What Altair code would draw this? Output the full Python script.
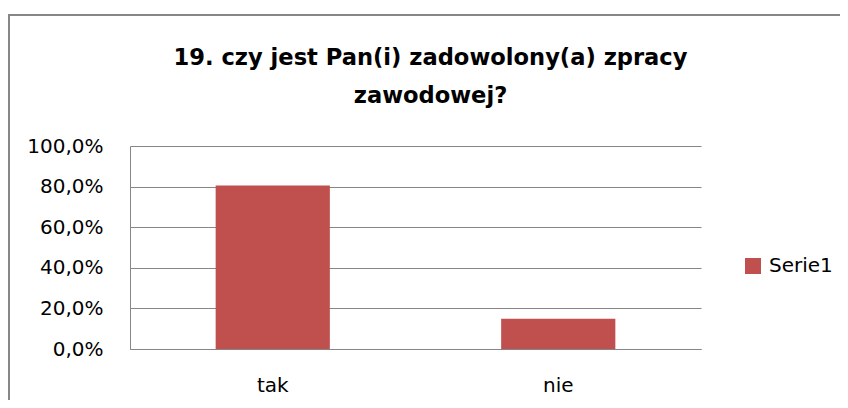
import altair as alt
import pandas as pd

categories = ["tak", "nie"]
values = [0.806, 0.149]
series = ["Serie1", "Serie1"]
y_ticks = [0.0, 0.2, 0.4, 0.6, 0.8, 1.0]
title_lines = ["19. czy jest Pan(i) zadowolony(a) zpracy", "zawodowej?"]

df = pd.DataFrame({"kategoria": categories, "wartosc": values, "serie": series})
frame_df = pd.DataFrame({"k": [0]})
title_df = pd.DataFrame({"linia": title_lines, "nr": [0, 1]})

FONT = "DejaVu Sans"
GRID = "#868686"

bars = alt.Chart(df).mark_bar(color="#C0504D").encode(
    x=alt.X(
        "kategoria:N",
        sort=categories,
        scale=alt.Scale(paddingInner=0.6, paddingOuter=0.3),
        axis=alt.Axis(
            title=None, labelAngle=0, ticks=False, labelPadding=26,
            labelFont=FONT, labelFontSize=20, labelColor="#000000",
            domainColor=GRID, domainWidth=1, grid=False,
        ),
    ),
    y=alt.Y(
        "wartosc:Q",
        scale=alt.Scale(domain=[0, 1], nice=False),
        axis=alt.Axis(
            title=None, values=y_ticks, ticks=False, labelPadding=27,
            labelExpr="replace(format(datum.value, '.1%'), '.', ',')",
            labelFont=FONT, labelFontSize=20, labelColor="#000000",
            domainColor=GRID, domainWidth=1,
            grid=True, gridColor=GRID, gridWidth=1,
        ),
    ),
    color=alt.Color(
        "serie:N",
        scale=alt.Scale(range=["#C0504D"]),
        legend=alt.Legend(
            title=None, orient="none", legendX=613, legendY=110,
            symbolType="square", symbolSize=256, symbolStrokeWidth=0,
            labelFont=FONT, labelFontSize=20, labelColor="#000000",
            labelOffset=6, padding=0,
        ),
    ),
)

frame_top = alt.Chart(frame_df).mark_rule(
    stroke="#878787", strokeWidth=2, clip=False
).encode(
    x=alt.value(-122), x2=alt.value(712), y=alt.value(-131),
)

frame_left = alt.Chart(frame_df).mark_rule(
    stroke="#878787", strokeWidth=2, clip=False
).encode(
    x=alt.value(-121), y=alt.value(-132), y2=alt.value(256),
)

title_l1 = alt.Chart(title_df).transform_filter("datum.nr == 0").mark_text(
    font=FONT, fontSize=22.6, fontWeight="bold", color="#000000",
    align="center", baseline="alphabetic",
).encode(text="linia:N", x=alt.value(300.5), y=alt.value(-81))

title_l2 = alt.Chart(title_df).transform_filter("datum.nr == 1").mark_text(
    font=FONT, fontSize=22.6, fontWeight="bold", color="#000000",
    align="center", baseline="alphabetic",
).encode(text="linia:N", x=alt.value(300.5), y=alt.value(-43))

chart = alt.layer(frame_top, frame_left, title_l1, title_l2, bars).properties(
    width=571,
    height=203,
    autosize=alt.AutoSizeParams(type="none"),
    padding={"left": 122, "top": 138, "right": 139, "bottom": 51},
    background="#ffffff",
).configure_view(strokeWidth=0)

chart.save("out.html", embed_options={"renderer": "svg", "actions": False})
